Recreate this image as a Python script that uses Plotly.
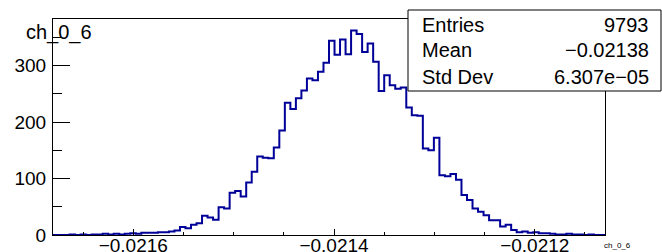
import plotly.graph_objects as go

# ---- data ----
x_min = -0.02168
x_max = -0.02113
n_bins = 100
counts = [
    0, 0, 0, 1, 0, 1, 0, 1, 1, 2,
    1, 2, 1, 2, 3, 2, 4, 4, 4, 5,
    5, 6, 8, 14, 12, 18, 21, 34, 31, 27,
    49, 47, 75, 78, 68, 93, 112, 139, 137, 136,
    155, 185, 234, 223, 242, 256, 277, 274, 289, 305,
    344, 319, 346, 320, 362, 356, 324, 339, 307, 255,
    283, 265, 259, 261, 226, 212, 211, 153, 150, 172,
    106, 104, 108, 98, 71, 62, 47, 41, 35, 26,
    26, 15, 18, 9, 5, 6, 4, 5, 3, 3,
    2, 1, 1, 2, 1, 1, 0, 1, 0, 0,
]
stat_labels = ["Entries", "Mean", "Std Dev"]
stat_values = ["9793", "\u22120.02138", "6.307e\u221205"]
hist_name = "ch_0_6"
x_tickvals = [-0.0216, -0.0214, -0.0212]
x_ticktext = ["\u22120.0216", "\u22120.0214", "\u22120.0212"]
y_tickvals = [0, 100, 200, 300]

# ---- build ----
bw = (x_max - x_min) / n_bins
edges = [x_min + i * bw for i in range(n_bins + 1)]
ys = counts + [counts[-1]]

FONT = "Liberation Sans, Arial, Helvetica, sans-serif"
W, H = 662, 252
L, R, T, B = 53, 605, 19, 235

fig = go.Figure()
fig.add_trace(go.Scatter(
    x=edges, y=ys, mode="lines", line_shape="hv",
    line=dict(color="#000099", width=2), hoverinfo="skip", showlegend=False))

fig.update_layout(
    width=W, height=H, autosize=False,
    margin=dict(l=L, r=W - R, t=T, b=H - B, pad=0, autoexpand=False),
    paper_bgcolor="white", plot_bgcolor="white",
    font=dict(family=FONT, color="black", size=19),
    xaxis=dict(range=[x_min, x_max], showgrid=False, zeroline=False, automargin=False,
               showline=True, linecolor="black", linewidth=1, mirror=True,
               ticks="inside", ticklen=6, tickwidth=1, tickcolor="black",
               tickvals=x_tickvals, ticktext=x_ticktext, ticklabelstandoff=-7,
               minor=dict(dtick=0.00005, tick0=-0.0216, ticks="inside", ticklen=3,
                          tickcolor="black", tickwidth=1, showgrid=False),
               tickfont=dict(size=19)),
    yaxis=dict(range=[0, 382.5], showgrid=False, zeroline=False, automargin=False,
               showline=True, linecolor="black", linewidth=1, mirror=True,
               ticks="inside", ticklen=17, tickwidth=1, tickcolor="black",
               tickvals=y_tickvals, ticklabelstandoff=2,
               minor=dict(dtick=50, tick0=0, ticks="inside", ticklen=9,
                          tickcolor="black", tickwidth=1, showgrid=False),
               tickfont=dict(size=19)),
)

def px_x(p):
    return (p - L) / (R - L)

def px_y(p):
    return (B - p) / (B - T)

# stats box
fig.add_shape(type="rect", xref="paper", yref="paper",
              x0=px_x(408), x1=px_x(661), y0=px_y(91), y1=px_y(10),
              line=dict(color="black", width=1), fillcolor="white", layer="above")
row_y = [25, 50, 77]
for lab, val, yy in zip(stat_labels, stat_values, row_y):
    fig.add_annotation(text=lab, xref="paper", yref="paper", x=px_x(420), y=px_y(yy),
                       xanchor="left", yanchor="middle", showarrow=False,
                       font=dict(size=20, family=FONT, color="black"))
    fig.add_annotation(text=val, xref="paper", yref="paper", x=px_x(651), y=px_y(yy),
                       xanchor="right", yanchor="middle", showarrow=False,
                       font=dict(size=20, family=FONT, color="black"))

# title
fig.add_annotation(text=hist_name, xref="paper", yref="paper", x=px_x(24), y=px_y(33),
                   xanchor="left", yanchor="middle", showarrow=False,
                   font=dict(size=20, family=FONT, color="black"))
# x-axis title
fig.add_annotation(text=hist_name, xref="paper", yref="paper", x=px_x(633), y=px_y(246),
                   xanchor="right", yanchor="middle", showarrow=False,
                   font=dict(size=8, family=FONT, color="black"))

fig.write_html("out.html", config={"displayModeBar": False, "staticPlot": True},
               post_script="document.body.style.margin='0';document.body.style.overflow='hidden';")
